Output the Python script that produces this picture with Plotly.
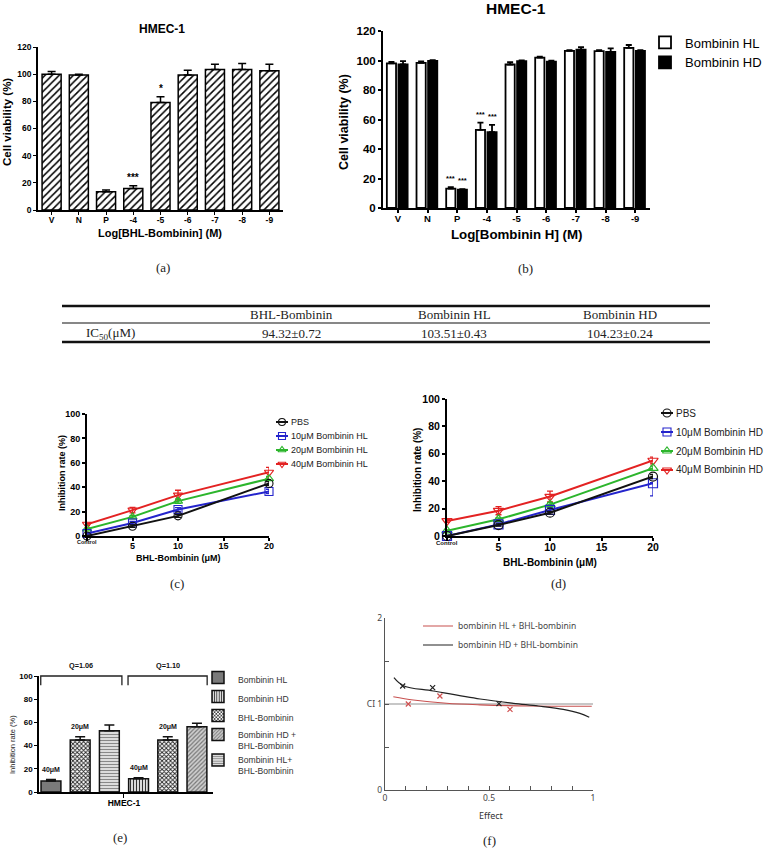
import plotly.graph_objects as go

W, H = 767, 848

# ------------------------------------------------------------------ data
A_CATS = ["V", "N", "P", "-4", "-5", "-6", "-7", "-8", "-9"]
A_VIAB = [99.9, 99.4, 13.5, 15.9, 79.1, 99.4, 103.4, 103.4, 102.6]
A_ERR = [2.0, 0.5, 1.2, 2.0, 4.2, 3.5, 3.9, 4.4, 4.7]
A_SIG = ["", "", "", "***", "*", "", "", "", ""]

B_CATS = ["V", "N", "P", "-4", "-5", "-6", "-7", "-8", "-9"]
B_HL = [98.0, 98.4, 13.1, 52.9, 97.3, 102.0, 106.5, 106.3, 108.6]
B_HL_ERR = [1.0, 1.0, 1.1, 5.0, 1.6, 0.6, 0.6, 0.8, 1.9]
B_HD = [97.3, 99.8, 12.4, 51.4, 99.5, 99.3, 107.4, 105.9, 106.5]
B_HD_ERR = [2.3, 0.5, 0.4, 4.9, 0.6, 0.6, 1.7, 2.3, 0.6]
B_HL_SIG = ["", "", "***", "***", "", "", "", "", ""]
B_HD_SIG = ["", "", "***", "***", "", "", "", "", ""]

C_X = [0, 5, 10, 20]
C_NAMES = ["PBS", "10\u03bcM Bombinin HL", "20\u03bcM Bombinin HL", "40\u03bcM Bombinin HL"]
C_PBS = [0.0, 8.0, 16.5, 43.1]
C_HL10 = [2.0, 10.7, 21.7, 36.5]
C_HL20 = [5.8, 15.7, 28.6, 47.0]
C_HL40 = [9.6, 21.2, 33.5, 52.2]
C_PBS_ERR = [0.5, 1.0, 1.2, 1.5]
C_HL10_ERR = [0.5, 1.2, 1.5, 1.8]
C_HL20_ERR = [0.5, 1.0, 1.8, 1.8]
C_HL40_ERR = [1.0, 2.2, 4.0, 4.0]

D_X = [0, 5, 10, 20]
D_NAMES = ["PBS", "10\u03bcM Bombinin HD", "20\u03bcM Bombinin HD", "40\u03bcM Bombinin HD"]
D_PBS = [0.0, 8.0, 17.0, 43.4]
D_HD10 = [0.0, 8.5, 19.0, 38.5]
D_HD20 = [3.9, 12.2, 22.9, 49.5]
D_HD40 = [11.0, 18.5, 28.8, 55.1]
D_PBS_ERR = [0.5, 0.8, 1.0, 1.5]
D_HD10_ERR_UP = [0.5, 1.0, 1.5, 0.5]
D_HD10_ERR_DOWN = [0.5, 1.0, 1.5, 9.2]
D_HD20_ERR = [0.5, 1.0, 1.5, 1.5]
D_HD40_ERR = [1.0, 3.0, 4.0, 2.5]

E_POS = [0, 1, 2, 3, 4, 5]
E_VAL = [9.5, 44.8, 52.8, 11.5, 44.8, 56.3]
E_ERR = [1.2, 2.8, 5.0, 0.8, 2.8, 3.0]
E_DOSE = ["40\u03bcM", "20\u03bcM", "", "40\u03bcM", "20\u03bcM", ""]
E_NAMES = ["Bombinin HL", "Bombinin HD", "BHL-Bombinin",
           "Bombinin HD +<br>BHL-Bombinin", "Bombinin HL+<br>BHL-Bombinin"]
E_BAR_SERIES = [0, 2, 4, 1, 2, 3]
E_TICK = ["HMEC-1"]
E_Q = ["Q=1.06", "Q=1.10"]
E_Q_SPANS = [(0, 2), (3, 5)]

F_BLACK_X = [0.043, 0.088, 0.232, 0.457, 0.617, 0.737, 0.857, 0.937, 0.982]
F_BLACK_Y = [1.306, 1.213, 1.151, 1.058, 1.008, 0.977, 0.938, 0.891, 0.845]
F_RED_X = [0.040, 0.136, 0.296, 0.457, 0.697, 0.994]
F_RED_Y = [1.085, 1.047, 1.008, 0.990, 0.977, 0.973]
F_BLACK_PTS_X = [0.085, 0.229, 0.548]
F_BLACK_PTS_Y = [1.209, 1.190, 1.004]
F_RED_PTS_X = [0.112, 0.264, 0.601]
F_RED_PTS_Y = [1.000, 1.093, 0.938]
F_NAMES = ["bombinin HL + BHL-bombinin", "bombinin HD + BHL-bombinin"]
F_XTICKS = [0, 0.1, 0.2, 0.3, 0.4, 0.5, 0.6, 0.7, 0.8, 0.9, 1.0]
F_XLABELS = ["0", "", "", "", "", "0.5", "", "", "", "", "1"]
F_YTICKS = [0, 0.5, 1, 1.5, 2]
F_YLABELS = ["0", "", "CI 1", "", "2"]
CI_REF = 1.0

TABLE_HEADER = ["", "BHL-Bombinin", "Bombinin HL", "Bombinin HD"]
TABLE_ROW = ["IC<sub>50</sub>(\u03bcM)", "94.32\u00b10.72", "103.51\u00b10.43", "104.23\u00b10.24"]

# ------------------------------------------------------------------ helpers
SANS = "Liberation Sans, Arial, sans-serif"
SERIF = "Liberation Serif, Times New Roman, serif"
LIGHT = "Noto Sans, Open Sans, sans-serif"


def PX(x):
    return x / W


def PY(y):
    return 1 - y / H


def font(size, weight="normal", color="black", family=SANS):
    return dict(family=family, size=size, color=color, weight=weight)


anns = []


def text(t, x, y, size, weight="normal", family=SANS, color="black", angle=0,
         xanchor="center", yanchor="middle", xref="paper", yref="paper", yshift=0):
    anns.append(dict(text=t, x=x, y=y, xref=xref, yref=yref, showarrow=False,
                     font=font(size, weight, color, family), textangle=angle,
                     xanchor=xanchor, yanchor=yanchor, yshift=yshift))


fig = go.Figure()

# ------------------------------------------------------------------ (a)
fig.add_trace(go.Bar(
    x=list(range(len(A_CATS))), y=A_VIAB, width=0.7, xaxis="x", yaxis="y",
    marker=dict(color="white", line=dict(color="black", width=1.5),
                pattern=dict(shape="/", fgcolor="black", bgcolor="white", size=5, solidity=0.3)),
    error_y=dict(type="data", array=A_ERR, arrayminus=[0] * len(A_ERR), symmetric=False,
                 color="black", thickness=1.5, width=4),
    showlegend=False))
for i, s in enumerate(A_SIG):
    if s:
        text(s, i, A_VIAB[i] + A_ERR[i], 10, "bold", xref="x", yref="y", yanchor="bottom", yshift=1)

# ------------------------------------------------------------------ (b)
HL_OFF, HD_OFF, BW = -0.37, 0.02, 0.31
fig.add_trace(go.Bar(
    x=list(range(len(B_CATS))), y=B_HL, offset=HL_OFF, width=BW, xaxis="x2", yaxis="y2",
    name="Bombinin HL", legend="legend",
    marker=dict(color="white", line=dict(color="black", width=1.8)),
    error_y=dict(type="data", array=B_HL_ERR, arrayminus=[0] * 9, symmetric=False,
                 color="black", thickness=1.8, width=3)))
fig.add_trace(go.Bar(
    x=list(range(len(B_CATS))), y=B_HD, offset=HD_OFF, width=BW, xaxis="x2", yaxis="y2",
    name="Bombinin HD", legend="legend",
    marker=dict(color="black", line=dict(color="black", width=1.8)),
    error_y=dict(type="data", array=B_HD_ERR, arrayminus=[0] * 9, symmetric=False,
                 color="black", thickness=1.8, width=3)))
for i in range(len(B_CATS)):
    if B_HL_SIG[i]:
        text(B_HL_SIG[i], i + HL_OFF + BW / 2, B_HL[i] + B_HL_ERR[i], 7.5, "bold",
             xref="x2", yref="y2", yanchor="bottom", yshift=2)
    if B_HD_SIG[i]:
        text(B_HD_SIG[i], i + HD_OFF + BW / 2, B_HD[i] + B_HD_ERR[i], 7.5, "bold",
             xref="x2", yref="y2", yanchor="bottom", yshift=2)

# ------------------------------------------------------------------ (c) & (d)
LINE_COLORS = ["#111111", "#2424cc", "#2cb52c", "#e32222"]
LINE_SYMBOLS = ["circle-open", "square-open", "triangle-up-open", "triangle-down-open"]

c_vals = [C_PBS, C_HL10, C_HL20, C_HL40]
c_errs = [C_PBS_ERR, C_HL10_ERR, C_HL20_ERR, C_HL40_ERR]
for k in reversed(range(4)):
    fig.add_trace(go.Scatter(
        x=C_X, y=c_vals[k], mode="lines+markers", xaxis="x3", yaxis="y3", cliponaxis=False,
        line=dict(color=LINE_COLORS[k], width=2),
        marker=dict(symbol=LINE_SYMBOLS[k], size=8, color=LINE_COLORS[k],
                    line=dict(color=LINE_COLORS[k], width=1.1)),
        error_y=dict(type="data", array=c_errs[k], color=LINE_COLORS[k], thickness=1.3, width=3),
        showlegend=False))

d_vals = [D_PBS, D_HD10, D_HD20, D_HD40]
d_up = [D_PBS_ERR, D_HD10_ERR_UP, D_HD20_ERR, D_HD40_ERR]
d_down = [D_PBS_ERR, D_HD10_ERR_DOWN, D_HD20_ERR, D_HD40_ERR]
for k in reversed(range(4)):
    fig.add_trace(go.Scatter(
        x=D_X, y=d_vals[k], mode="lines+markers", xaxis="x4", yaxis="y4", cliponaxis=False,
        line=dict(color=LINE_COLORS[k], width=2),
        marker=dict(symbol=LINE_SYMBOLS[k], size=9, color=LINE_COLORS[k],
                    line=dict(color=LINE_COLORS[k], width=1.2)),
        error_y=dict(type="data", array=d_up[k], arrayminus=d_down[k], symmetric=False,
                     color=LINE_COLORS[k], thickness=1.3, width=3),
        showlegend=False))

# hand-made legends for (c) and (d) on an overlay pixel axis
LEG = [dict(x=282, y0=422, dy=14, half=6, msize=7, tx=289, size=9, names=C_NAMES),
       dict(x=667, y0=413, dy=19, half=6, msize=8, tx=674, size=10, names=D_NAMES)]
for lg in LEG:
    for k, nm in enumerate(lg["names"]):
        gy = lg["y0"] + k * lg["dy"]
        fig.add_trace(go.Scatter(
            x=[lg["x"] - lg["half"], lg["x"] + lg["half"]], y=[gy, gy], mode="lines",
            xaxis="x7", yaxis="y7", line=dict(color=LINE_COLORS[k], width=2),
            showlegend=False, cliponaxis=False))
        fig.add_trace(go.Scatter(
            x=[lg["x"]], y=[gy], mode="markers", xaxis="x7", yaxis="y7", cliponaxis=False,
            marker=dict(symbol=LINE_SYMBOLS[k], size=lg["msize"], color=LINE_COLORS[k],
                        line=dict(color=LINE_COLORS[k], width=1.1)),
            showlegend=False))
        text(nm, PX(lg["tx"]), PY(gy), lg["size"], xanchor="left", color="#222")

# ------------------------------------------------------------------ (e)
E_STYLES = [
    dict(color="#7a7a7a"),
    dict(color="white", pattern=dict(shape="|", fgcolor="#333", bgcolor="white", size=3, solidity=0.45)),
    dict(color="white", pattern=dict(shape="x", fgcolor="#222", bgcolor="white", size=3, solidity=0.5)),
    dict(color="#cccccc", pattern=dict(shape="/", fgcolor="#777", bgcolor="#cfcfcf", size=3, solidity=0.4)),
    dict(color="#e0e0e0", pattern=dict(shape="-", fgcolor="#888", bgcolor="#e6e6e6", size=3, solidity=0.4)),
]
for k, nm in enumerate(E_NAMES):
    idx = [i for i, s in enumerate(E_BAR_SERIES) if s == k]
    mk = dict(E_STYLES[k])
    mk["line"] = dict(color="#111", width=1.5)
    fig.add_trace(go.Bar(
        x=[E_POS[i] for i in idx], y=[E_VAL[i] for i in idx], width=0.68,
        xaxis="x5", yaxis="y5", name=nm, legend="legend2", marker=mk,
        error_y=dict(type="data", array=[E_ERR[i] for i in idx], arrayminus=[0] * len(idx),
                     symmetric=False, color="#111", thickness=1.5, width=5)))
for i, d in enumerate(E_DOSE):
    if d:
        text(d, E_POS[i], E_VAL[i] + E_ERR[i], 7, "bold", xref="x5", yref="y5",
             yanchor="bottom", yshift=4, color="#111")
shapes = []
for (a, b), q, pad_l, pad_r in zip(E_Q_SPANS, E_Q, [0.35, 0.36], [0.43, 0.35]):
    x0, x1 = E_POS[a] - pad_l, E_POS[b] + pad_r
    shapes.append(dict(type="path", xref="x5", yref="y5 domain",
                       path=f"M {x0},0.92 L {x0},1 L {x1},1 L {x1},0.92",
                       line=dict(color="#222", width=1.3)))
    text(q, (x0 + x1) / 2, 1, 7.3, "bold", xref="x5", yref="y5 domain", yanchor="bottom",
         yshift=4, color="#111")

# ------------------------------------------------------------------ (f)
fig.add_trace(go.Scatter(x=F_RED_X, y=F_RED_Y, mode="lines", xaxis="x6", yaxis="y6",
                         line=dict(color="#c8504f", width=1.1, shape="spline"),
                         name=F_NAMES[0], legend="legend3"))
fig.add_trace(go.Scatter(x=F_BLACK_X, y=F_BLACK_Y, mode="lines", xaxis="x6", yaxis="y6",
                         line=dict(color="#222", width=1.2, shape="spline"),
                         name=F_NAMES[1], legend="legend3"))
fig.add_trace(go.Scatter(x=F_RED_PTS_X, y=F_RED_PTS_Y, mode="markers", xaxis="x6", yaxis="y6",
                         marker=dict(symbol="x-thin", size=5, line=dict(color="#d05050", width=1.2)),
                         showlegend=False))
fig.add_trace(go.Scatter(x=F_BLACK_PTS_X, y=F_BLACK_PTS_Y, mode="markers", xaxis="x6", yaxis="y6",
                         marker=dict(symbol="x-thin", size=5, line=dict(color="#222", width=1.2)),
                         showlegend=False))
shapes.append(dict(type="line", xref="x6", yref="y6", x0=0, x1=1, y0=CI_REF, y1=CI_REF,
                   line=dict(color="#b5b5b5", width=1.5), layer="below"))

# ------------------------------------------------------------------ table
TABLE_X = [110, 291, 454, 620]
for y, w in [(306, 2.5), (323, 1.2), (342, 2.5)]:
    shapes.append(dict(type="line", xref="paper", yref="paper", x0=PX(62), x1=PX(710),
                       y0=PY(y), y1=PY(y), line=dict(color="#111", width=w)))
for t, x in zip(TABLE_HEADER, TABLE_X):
    if t:
        text(t, PX(x), PY(314.5), 13, family=SERIF, color="#222")
for t, x in zip(TABLE_ROW, TABLE_X):
    text(t, PX(x), PY(333), 13, family=SERIF, color="#222")

# ------------------------------------------------------------------ titles / captions
text("HMEC-1", PX(162), PY(29), 12, "bold")
text("Cell viability (%)", PX(7), PY(122), 11.5, "bold", angle=-90)
text("Log[BHL-Bombinin] (M)", PX(160), PY(233), 11, "bold")

text("HMEC-1", PX(516), PY(9), 15.5, "bold")
text("Cell viability (%)", PX(344), PY(122), 12.5, "bold", angle=-90)
text("Log[Bombinin H] (M)", PX(516), PY(235), 13.3, "bold")

text("Inhibition rate (%)", PX(62), PY(473), 9, "bold", angle=-90)
text("BHL-Bombinin (\u03bcM)", PX(178), PY(558), 9, "bold")
text("Control", 0, PY(542), 5.5, "bold", xref="x3", color="#111")

text("Inhibition rate (%)", PX(418), PY(470), 10, "bold", angle=-90)
text("BHL-Bombinin (\u03bcM)", PX(550), PY(562), 10, "bold")
text("Control", 0, PY(543), 6, "bold", xref="x4", color="#111")

text("Inhibition rate (%)", PX(12), PY(745), 7.5, angle=-90, color="#222")

text("Effect", PX(491), PY(815), 9, family=LIGHT, color="#333")

for cap, x, y in [("(a)", 163, 267), ("(b)", 525, 268), ("(c)", 177, 583),
                  ("(d)", 558, 583), ("(e)", 120, 837), ("(f)", 490, 840)]:
    text(cap, PX(x), PY(y), 13, family=SERIF, color="#222")

# ------------------------------------------------------------------ axes
AX = dict(showgrid=False, zeroline=False, showline=True, linecolor="black",
          ticks="outside", tickcolor="black", fixedrange=True)

layout = dict(
    width=W, height=H, margin=dict(l=0, r=0, t=0, b=0), autosize=False,
    paper_bgcolor="white", plot_bgcolor="rgba(0,0,0,0)", template="none",
    barmode="overlay", hovermode=False, annotations=anns, shapes=shapes,
    # (a)
    xaxis=dict(AX, domain=[PX(38), PX(283)], range=[-0.5, 8.5], anchor="y",
               tickvals=list(range(9)), ticktext=A_CATS, linewidth=1.8, ticklen=3,
               tickwidth=1.3, tickfont=font(8.5, "bold"), ticklabelstandoff=-2),
    yaxis=dict(AX, domain=[PY(210), PY(47)], range=[0, 120], dtick=20, anchor="x",
               linewidth=1.8, ticklen=3, tickwidth=1.3, tickfont=font(8.5, "bold")),
    # (b)
    xaxis2=dict(AX, domain=[PX(383), PX(650)], range=[-0.5, 8.5], anchor="y2",
                tickvals=list(range(9)), ticktext=B_CATS, linewidth=2, ticklen=3,
                tickwidth=1.5, tickfont=font(9.5, "bold"), ticklabelstandoff=-2),
    yaxis2=dict(AX, domain=[PY(208), PY(31)], range=[0, 120], dtick=20, anchor="x2",
                linewidth=2, ticklen=3, tickwidth=1.5, tickfont=font(11.5, "bold")),
    # (c)
    xaxis3=dict(AX, domain=[PX(87), PX(269)], range=[0, 20], anchor="y3",
                tickvals=[0, 5, 10, 15, 20], ticktext=["", "5", "10", "15", "20"],
                linewidth=2, ticklen=3, tickwidth=1.5, tickfont=font(9, "bold"),
                ticklabelstandoff=-3),
    yaxis3=dict(AX, domain=[PY(536), PY(414)], range=[0, 100], dtick=20, anchor="x3",
                linewidth=2, ticklen=3, tickwidth=1.5, tickfont=font(9, "bold")),
    # (d)
    xaxis4=dict(AX, domain=[PX(447), PX(653)], range=[0, 20], anchor="y4",
                tickvals=[0, 5, 10, 15, 20], ticktext=["", "5", "10", "15", "20"],
                linewidth=2, ticklen=3, tickwidth=1.5, tickfont=font(10.5, "bold"),
                ticklabelstandoff=-3),
    yaxis4=dict(AX, domain=[PY(536), PY(399)], range=[0, 100], dtick=20, anchor="x4",
                linewidth=2, ticklen=3, tickwidth=1.5, tickfont=font(10.5, "bold")),
    # (e)
    xaxis5=dict(AX, domain=[PX(39), PX(213)], range=[-0.41, 5.55], anchor="y5",
                tickvals=[2.5], ticktext=E_TICK, linewidth=1.5, ticklen=4,
                tickwidth=1.3, tickfont=font(8.5, "bold"), ticklabelstandoff=-2),
    yaxis5=dict(AX, domain=[PY(792), PY(676)], range=[0, 100], dtick=20, anchor="x5",
                linewidth=1.5, ticklen=3, tickwidth=1.3, tickfont=font(8, "bold")),
    # (f)
    xaxis6=dict(AX, domain=[PX(385), PX(593)], range=[0, 1], anchor="y6",
                tickvals=F_XTICKS, ticktext=F_XLABELS, linecolor="#555", linewidth=1.2,
                ticks="inside", ticklen=4, tickwidth=1, tickcolor="#555",
                tickfont=font(8.5, color="#444", family=LIGHT)),
    yaxis6=dict(AX, domain=[PY(790), PY(618)], range=[0, 2], anchor="x6",
                tickvals=F_YTICKS, ticktext=F_YLABELS, linecolor="#555", linewidth=1.2,
                ticks="inside", ticklen=4, tickwidth=1, tickcolor="#555",
                tickfont=font(8.5, color="#444", family=LIGHT)),
    # overlay pixel axis for hand-made legends
    xaxis7=dict(domain=[0, 1], range=[0, W], anchor="y7", visible=False, fixedrange=True),
    yaxis7=dict(domain=[0, 1], range=[H, 0], anchor="x7", visible=False, fixedrange=True),
    legend=dict(x=PX(645), y=PY(27.5), xanchor="left", yanchor="top",
                bgcolor="rgba(0,0,0,0)", font=font(13)),
    legend2=dict(x=PX(198), y=PY(665.5), xanchor="left", yanchor="top", valign="top",
                 bgcolor="rgba(0,0,0,0)", font=font(8.6, color="#333")),
    legend3=dict(x=PX(418), y=PY(611.5), xanchor="left", yanchor="top",
                 bgcolor="rgba(0,0,0,0)", font=font(8.5, color="#444", family=LIGHT)),
)
fig.update_layout(**layout)

fig.write_html("out.html", config={"displayModeBar": False},
               post_script="document.body.style.margin='0';")
